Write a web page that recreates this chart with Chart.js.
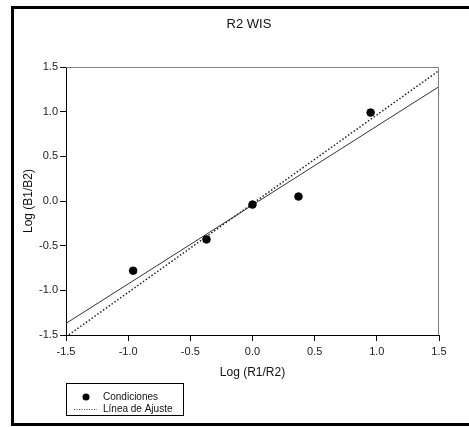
<!DOCTYPE html>
<html>
<head>
<meta charset="utf-8">
<script src="https://cdn.jsdelivr.net/npm/chart.js@4.4.0/dist/chart.umd.min.js"></script>
<style>
    html, body { margin: 0; padding: 0; background: #fff; }
</style>
</head>
<body>
<canvas id="chart" width="469" height="427"></canvas>
<script>
// Data
const chartTitle = 'R2 WIS';
const xTitle = 'Log (R1/R2)';
const yTitle = 'Log (B1/B2)';

const condX = [-0.96, -0.37, 0.0, 0.37, 0.95];
const condY = [-0.78, -0.43, -0.04, 0.05, 0.99];

// dotted fit line end points
const fitX = [-1.5, 1.5];
const fitY = [-1.52, 1.46];

// solid line end points (not in legend)
const solidX = [-1.5, 1.5];
const solidY = [-1.37, 1.28];

const axisMin = -1.5;
const axisMax = 1.5;
const tickStep = 0.5;

const seriesNames = ['Condiciones', 'Línea de Ajuste'];

const FONT = '"Liberation Sans", Arial, sans-serif';

function toPoints(xs, ys) {
    return xs.map((x, i) => ({ x: x, y: ys[i] }));
}

// Frame, title and legend box
const framePlugin = {
    id: 'frame',
    beforeDraw(chart) {
        const ctx = chart.ctx;
        ctx.save();
        ctx.fillStyle = '#fff';
        ctx.fillRect(0, 0, chart.width, chart.height);
        ctx.restore();
    },
    afterDraw(chart) {
        const ctx = chart.ctx;
        const a = chart.chartArea;
        ctx.save();

        // grey top and right edges of the plot
        ctx.strokeStyle = '#808080';
        ctx.lineWidth = 1;
        ctx.beginPath();
        ctx.moveTo(a.left, a.top + 0.5);
        ctx.lineTo(a.right - 0.5, a.top + 0.5);
        ctx.lineTo(a.right - 0.5, a.bottom);
        ctx.stroke();

        // outer black frame
        ctx.strokeStyle = '#000';
        ctx.lineWidth = 3;
        ctx.strokeRect(12.5, 7.5, 480, 417);

        // title
        ctx.fillStyle = '#111';
        ctx.font = '13px ' + FONT;
        ctx.textAlign = 'center';
        ctx.textBaseline = 'middle';
        ctx.fillText(chartTitle, 249, 24);

        // legend
        ctx.lineWidth = 1;
        ctx.strokeStyle = '#000';
        ctx.strokeRect(66.5, 383.5, 117, 32);

        ctx.fillStyle = '#000';
        ctx.beginPath();
        ctx.arc(86, 397, 3.5, 0, Math.PI * 2);
        ctx.fill();

        ctx.strokeStyle = '#444';
        ctx.setLineDash([1, 1.5]);
        ctx.beginPath();
        ctx.moveTo(74, 409.5);
        ctx.lineTo(97, 409.5);
        ctx.stroke();
        ctx.setLineDash([]);

        ctx.fillStyle = '#111';
        ctx.font = '10px ' + FONT;
        ctx.textAlign = 'left';
        ctx.fillText(seriesNames[0], 103, 397);
        ctx.fillText(seriesNames[1], 103, 409);

        ctx.restore();
    }
};

const axisCommon = {
    type: 'linear',
    min: axisMin,
    max: axisMax,
    grid: {
        display: true,
        drawOnChartArea: false,
        drawTicks: true,
        tickLength: 6,
        tickColor: '#000'
    },
    border: { display: true, color: '#000', width: 1 },
    ticks: {
        stepSize: tickStep,
        color: '#222',
        font: { family: FONT, size: 11 },
        callback: (v) => Number(v).toFixed(1)
    }
};

new Chart(document.getElementById('chart').getContext('2d'), {
    type: 'scatter',
    data: {
        datasets: [
            {
                label: seriesNames[0],
                data: toPoints(condX, condY),
                backgroundColor: '#000',
                borderColor: '#000',
                pointRadius: 3.8,
                pointHoverRadius: 3.8,
                order: 0
            },
            {
                label: seriesNames[1],
                data: toPoints(fitX, fitY),
                showLine: true,
                borderColor: '#222',
                borderWidth: 1.5,
                borderDash: [1.5, 2],
                pointRadius: 0,
                fill: false,
                order: 1
            },
            {
                label: '',
                data: toPoints(solidX, solidY),
                showLine: true,
                borderColor: '#333',
                borderWidth: 1,
                pointRadius: 0,
                fill: false,
                order: 2
            }
        ]
    },
    options: {
        responsive: false,
        animation: false,
        events: [],
        layout: { padding: { left: 0, top: 67, right: 30, bottom: 0 } },
        plugins: {
            legend: { display: false },
            title: { display: false },
            tooltip: { enabled: false }
        },
        scales: {
            x: Object.assign({}, axisCommon, {
                position: 'bottom',
                ticks: Object.assign({}, axisCommon.ticks, { padding: 4, maxRotation: 0 }),
                title: {
                    display: true,
                    text: xTitle,
                    color: '#111',
                    font: { family: FONT, size: 12 },
                    padding: { top: 0, bottom: 47 }
                },
                afterFit: (s) => { s.height = 92; }
            }),
            y: Object.assign({}, axisCommon, {
                position: 'left',
                ticks: Object.assign({}, axisCommon.ticks, { padding: 2 }),
                title: {
                    display: true,
                    text: yTitle,
                    color: '#111',
                    font: { family: FONT, size: 12 },
                    padding: { top: 21, bottom: 0 }
                },
                afterFit: (s) => { s.width = 66; }
            })
        }
    },
    plugins: [framePlugin]
});
</script>
</body>
</html>
